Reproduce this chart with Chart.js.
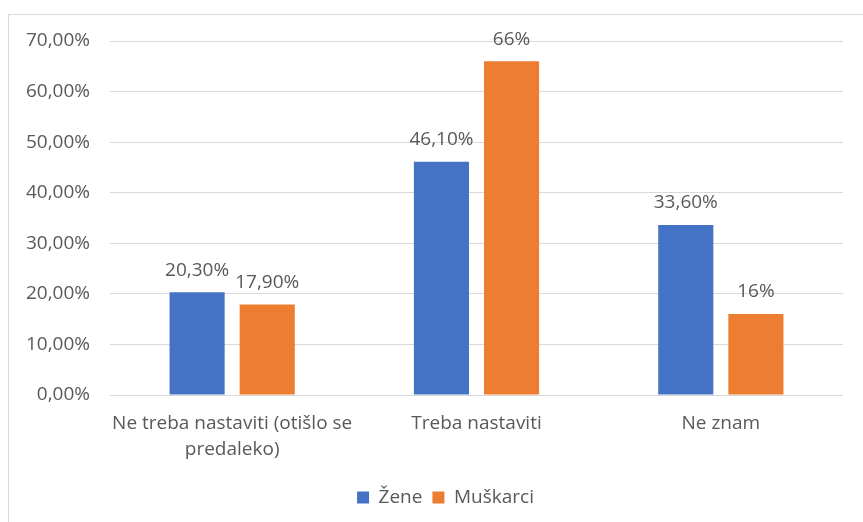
<!DOCTYPE html>
<html>
<head>
<meta charset="utf-8">
<script src="https://cdn.jsdelivr.net/npm/chart.js@4/dist/chart.umd.min.js"></script>
<style>
    html, body { margin: 0; padding: 0; background: #fff; }
    #wrap { position: relative; width: 863px; height: 522px; overflow: hidden; }
    #frame {
        position: absolute; left: 8px; top: 14px; width: 900px; height: 600px;
        border-left: 1px solid #d9d9d9; border-top: 1px solid #d9d9d9;
    }
    canvas { position: absolute; left: 0; top: 0; }
</style>
</head>
<body>
<div id="wrap">
    <div id="frame"></div>
    <canvas id="surveyChart" width="863" height="522"></canvas>
</div>
<script>
// Chart data
const categories = [
    ['Ne treba nastaviti (otišlo se', 'predaleko)'],
    'Treba nastaviti',
    'Ne znam'
];
const zeneValues = [20.3, 46.1, 33.6];
const muskarciValues = [17.9, 66, 16];
const zeneLabels = ['20,30%', '46,10%', '33,60%'];
const muskarciLabels = ['17,90%', '66%', '16%'];
const yTickLabels = ['0,00%', '10,00%', '20,00%', '30,00%', '40,00%', '50,00%', '60,00%', '70,00%'];

const textColor = '#595959';
const fontFamily = "'Open Sans', 'Noto Sans', sans-serif";

// draws the value above every bar
const barLabels = {
    id: 'barLabels',
    afterDatasetsDraw(chart) {
        const ctx = chart.ctx;
        const texts = [zeneLabels, muskarciLabels];
        ctx.save();
        ctx.font = '19px ' + fontFamily;
        ctx.fillStyle = textColor;
        ctx.textAlign = 'center';
        ctx.textBaseline = 'middle';
        chart.data.datasets.forEach(function(ds, i) {
            chart.getDatasetMeta(i).data.forEach(function(bar, j) {
                ctx.fillText(texts[i][j], bar.x, bar.y - 22);
            });
        });
        ctx.restore();
    }
};

// the original legend sits a little right of the canvas centre
const legendShift = {
    id: 'legendShift',
    afterLayout(chart) {
        if (chart.legend) {
            chart.legend.left += 24;
            chart.legend.right += 24;
        }
    }
};

const ctx = document.getElementById('surveyChart').getContext('2d');
new Chart(ctx, {
    type: 'bar',
    data: {
        labels: categories,
        datasets: [{
            label: 'Žene',
            data: zeneValues,
            backgroundColor: '#4472C4',
            categoryPercentage: 0.574,
            barPercentage: 0.786
        }, {
            label: 'Muškarci',
            data: muskarciValues,
            backgroundColor: '#ED7D31',
            categoryPercentage: 0.574,
            barPercentage: 0.786
        }]
    },
    options: {
        responsive: false,
        animation: false,
        layout: {
            padding: { left: 0, top: 41, right: 20, bottom: 5 }
        },
        plugins: {
            legend: {
                position: 'bottom',
                labels: {
                    color: textColor,
                    boxWidth: 12,
                    boxHeight: 12,
                    padding: 10,
                    font: { family: fontFamily, size: 19 }
                }
            },
            tooltip: { enabled: false }
        },
        scales: {
            y: {
                min: 0,
                max: 70,
                ticks: {
                    stepSize: 10,
                    color: textColor,
                    padding: 20,
                    font: { family: fontFamily, size: 19 },
                    callback: function(value, index) {
                        return yTickLabels[index];
                    }
                },
                grid: {
                    color: '#d9d9d9',
                    drawTicks: false
                },
                border: { display: false },
                afterFit: function(scale) {
                    scale.width = 110;
                }
            },
            x: {
                ticks: {
                    color: textColor,
                    padding: 8,
                    maxRotation: 0,
                    autoSkip: false,
                    font: { family: fontFamily, size: 19, lineHeight: 1.35 }
                },
                grid: { display: false },
                border: { display: false },
                afterFit: function(scale) {
                    scale.height = 83;
                }
            }
        }
    },
    plugins: [barLabels, legendShift]
});
</script>
</body>
</html>
